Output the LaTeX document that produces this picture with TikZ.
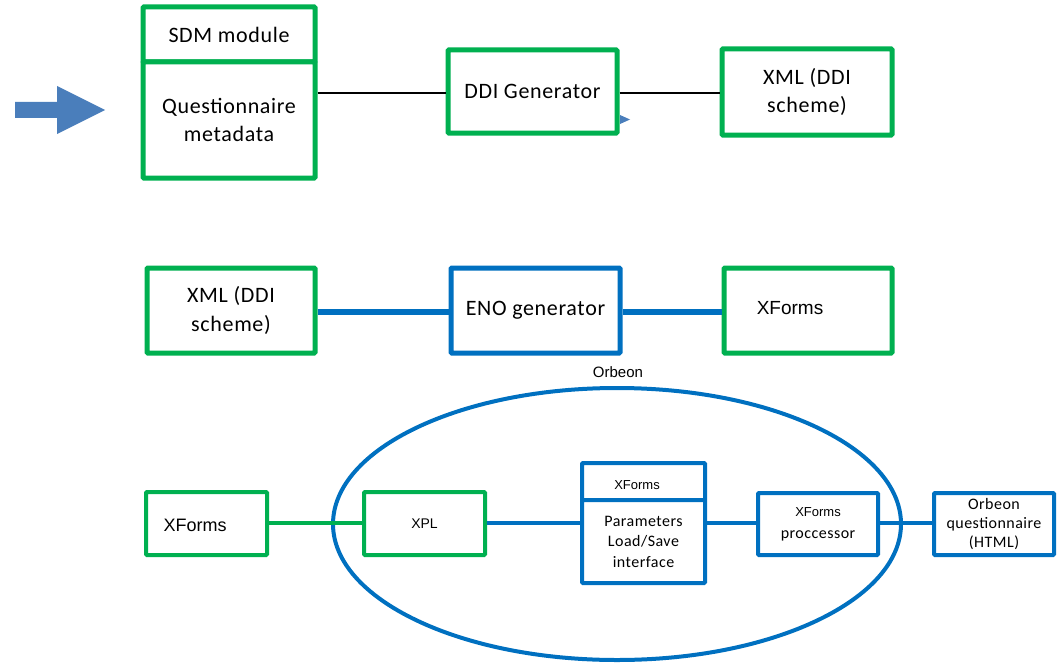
\documentclass[tikz,border=0pt]{standalone}
\usepackage{fontspec}
\setmainfont{Carlito}[LetterSpace=3]
\newfontfamily\arialf{Liberation Sans}
\usetikzlibrary{shapes.geometric}
\definecolor{bgreen}{HTML}{00B050}
\definecolor{bblue}{HTML}{0070C0}
\definecolor{arrblue}{HTML}{4A7EBB}
\tikzset{
  gbox/.style={draw=bgreen, line width=5pt, rounded corners=1pt, fill=white, inner sep=0pt, align=center, font=\fontsize{22}{26}\selectfont},
  bbox/.style={draw=bblue, line width=5pt, rounded corners=1pt, fill=white, inner sep=0pt, align=center, font=\fontsize{22}{26}\selectfont},
  gsmall/.style={draw=bgreen, line width=4pt, rounded corners=1pt, fill=white, inner sep=0pt, align=center},
  bsmall/.style={draw=bblue, line width=4pt, rounded corners=1pt, fill=white, inner sep=0pt, align=center},
  thinlink/.style={draw=black, line width=1.4pt},
  bluelink/.style={draw=bblue, line width=6pt},
  bluelinks/.style={draw=bblue, line width=4pt},
  greenlinks/.style={draw=bgreen, line width=4pt},
}
\begin{document}
\begin{tikzpicture}[x=1pt,y=-1pt]
\useasboundingbox (0,0) rectangle (1059,666);
% big arrow
\fill[arrblue] (15,102) -- (57,102) -- (57,86) -- (105,110) -- (57,134) -- (57,118) -- (15,118) -- cycle;

% row 1
\node[gbox, minimum width=172pt, minimum height=55pt] (sdmtop) at (229,34.5) {SDM module};
\node[gbox, minimum width=172pt, minimum height=116pt, font=\fontsize{22}{28}\selectfont] (sdmbody) at (229,120) {Questionnaire\\metadata};
\node[gbox, minimum width=169pt, minimum height=83pt] (ddi) at (532.5,91.5) {DDI Generator};
\node[gbox, minimum width=170pt, minimum height=86pt, font=\fontsize{22}{28}\selectfont] (xml1) at (807,92) {XML (DDI\\scheme)};
\draw[thinlink] (sdmbody.east |- 0,93) -- (ddi.west |- 0,93);
\draw[thinlink] (ddi.east |- 0,93) -- (xml1.west |- 0,93);
\fill[arrblue] (620,115) -- (630,119.5) -- (620,124) -- cycle;

% row 2
\node[gbox, minimum width=168pt, minimum height=85pt, font=\fontsize{22}{29}\selectfont] (xml2) at (231,310.5) {XML (DDI\\scheme)};
\node[bbox, minimum width=169pt, minimum height=85pt] (eno) at (535.5,310.5) {ENO generator};
\node[gbox, minimum width=168pt, minimum height=85pt] (xf2) at (808,310.5) {};
\node[font=\arialf\fontsize{19}{22}\selectfont] (xf2t) at (790,308) {XForms};
\draw[bluelink] (xml2.east |- 0,312) -- (eno.west |- 0,312);
\draw[bluelink] (eno.east |- 0,312) -- (xf2.west |- 0,312);

% row 3
\node[draw=bblue, line width=4pt, ellipse, minimum width=568pt, minimum height=272pt, inner sep=0pt] (orbeon) at (617,524) {};
\node[font=\arialf\fontsize{15}{17}\selectfont] (orbeonlbl) at (618,372) {Orbeon};

\node[gsmall, minimum width=121pt, minimum height=63pt] (xf3) at (206.5,523.5) {};
\node[font=\arialf\fontsize{18}{20}\selectfont] (xf3t) at (195,525) {XForms};
\node[gsmall, minimum width=121pt, minimum height=63pt, font=\arialf\fontsize{14}{16}\selectfont] (xpl) at (424.5,523.5) {XPL};
\node[bsmall, minimum width=123pt, minimum height=37pt] (ptop) at (643.5,481.5) {};
\node[font=\arialf\fontsize{13}{15}\selectfont] (ptopt) at (637,485) {XForms};
\node[bsmall, minimum width=123pt, minimum height=83pt, font=\fontsize{16}{20.5}\selectfont] (pbody) at (643.5,541.5) {Parameters\\Load/Save\\interface};
\node[bsmall, minimum width=120pt, minimum height=62pt, font=\fontsize{16}{22}\selectfont] (proc) at (818,524) {{\arialf\fontsize{13}{15}\selectfont XForms}\\proccessor};
\node[bsmall, minimum width=120pt, minimum height=62pt, font=\fontsize{16}{19}\selectfont] (oq) at (994,524) {Orbeon\\questionnaire\\(HTML)};

\draw[greenlinks] (xf3.east |- 0,523) -- (xpl.west |- 0,523);
\draw[bluelinks] (xpl.east |- 0,523) -- (pbody.west |- 0,523);
\draw[bluelinks] (pbody.east |- 0,523) -- (proc.west |- 0,523);
\draw[bluelinks] (proc.east |- 0,523) -- (oq.west |- 0,523);
\end{tikzpicture}
\end{document}
